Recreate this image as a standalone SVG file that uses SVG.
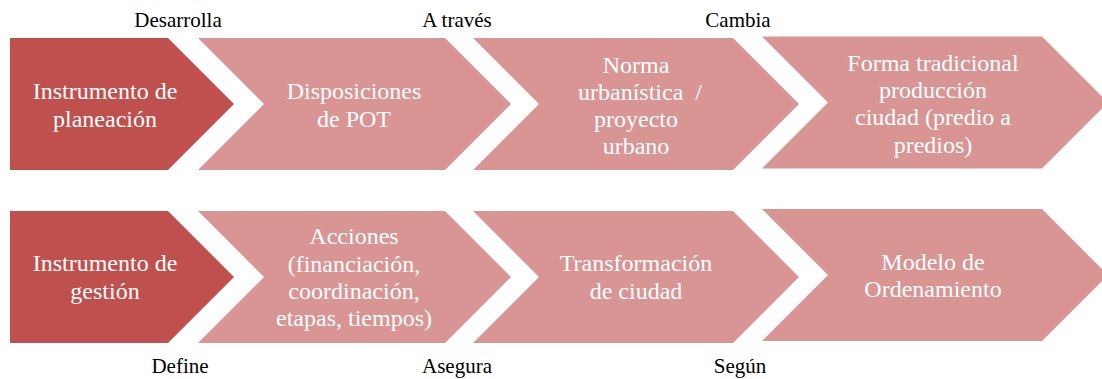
<svg xmlns="http://www.w3.org/2000/svg" width="1102" height="379" viewBox="0 0 1102 379">
<style>
.dark{fill:#C0504D}
.light{fill:#D99594}
.t{font-family:"Liberation Serif","Times New Roman",serif;font-size:24px;fill:#FFFFFF;text-anchor:middle}
.lab{font-family:"Liberation Serif","Times New Roman",serif;font-size:21px;fill:#000000;text-anchor:middle}
</style>
<rect width="1102" height="379" fill="#FFFFFF"/>
<g id="n1">
<path class="dark" d="M10,38 H168 L234,104 L168,170 H10 Z"/>
<text class="t" x="105" y="99">Instrumento de</text>
<text class="t" x="105" y="126.5">planeación</text>
</g>
<g id="n2">
<path class="light" d="M198,38 H445 L511,104 L445,170 H198 L264,104 Z"/>
<text class="t" x="354" y="99">Disposiciones</text>
<text class="t" x="354" y="126.5">de POT</text>
</g>
<g id="n3">
<path class="light" d="M473,38 H733 L799,104 L733,170 H473 L539,104 Z"/>
<text class="t" x="636" y="72.5">Norma</text>
<text class="t" x="640" y="99.5" xml:space="preserve">urbanística  /</text>
<text class="t" x="636" y="126.5">proyecto</text>
<text class="t" x="636" y="154">urbano</text>
</g>
<g id="n4">
<path class="light" d="M762,36.5 H1042 L1108,102.5 L1042,168.5 H762 L828,102.5 Z"/>
<text class="t" x="933" y="70.5">Forma tradicional</text>
<text class="t" x="933" y="98">producción</text>
<text class="t" x="933" y="125">ciudad (predio a</text>
<text class="t" x="933" y="152.5">predios)</text>
</g>
<g id="n5">
<path class="dark" d="M10,211 H168 L234,277 L168,343 H10 Z"/>
<text class="t" x="105" y="271">Instrumento de</text>
<text class="t" x="105" y="298.5">gestión</text>
</g>
<g id="n6">
<path class="light" d="M198,211 H445 L511,277 L445,343 H198 L264,277 Z"/>
<text class="t" x="354" y="244">Acciones</text>
<text class="t" x="354" y="271.5">(financiación,</text>
<text class="t" x="354" y="298.5">coordinación,</text>
<text class="t" x="354" y="326">etapas, tiempos)</text>
</g>
<g id="n7">
<path class="light" d="M473,211 H733 L799,277 L733,343 H473 L539,277 Z"/>
<text class="t" x="636" y="271">Transformación</text>
<text class="t" x="636" y="298.5">de ciudad</text>
</g>
<g id="n8">
<path class="light" d="M762,209 H1042 L1108,275 L1042,341 H762 L828,275 Z"/>
<text class="t" x="933" y="270">Modelo de</text>
<text class="t" x="933" y="297">Ordenamiento</text>
</g>
<g id="connectors">
<text class="lab" x="178" y="26.5">Desarrolla</text>
<text class="lab" x="457" y="26.5">A través</text>
<text class="lab" x="738" y="26.5">Cambia</text>
<text class="lab" x="180" y="372.5">Define</text>
<text class="lab" x="457" y="372.5">Asegura</text>
<text class="lab" x="740" y="372.5">Según</text>
</g>
</svg>
